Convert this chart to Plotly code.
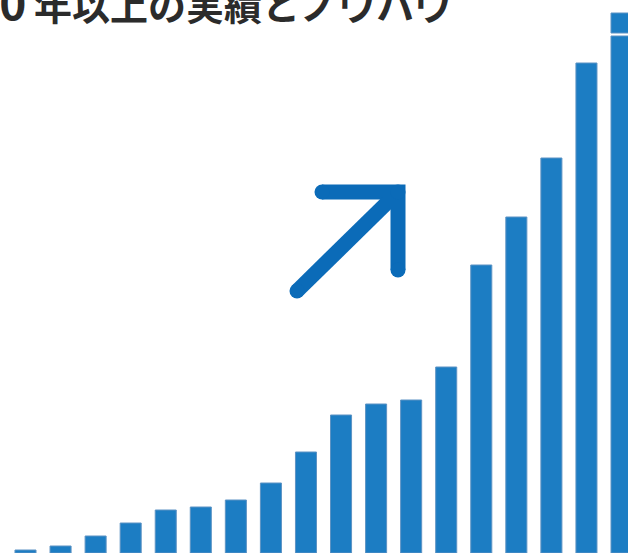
import plotly.graph_objects as go

# ---- data ----
years = list(range(18))
values = [3, 7, 17, 30, 43, 46, 53, 70, 101, 138, 149, 153, 186, 288, 336, 395, 490, 517]
last_extra_base = [520]
last_extra_value = [20]
title_number = "30"
title_text = "年以上の実績とノウハウ"

# arrow decoration (pixel-like overlay coords)
arrow_x = [322, 398, 398, None, 398, 297]
arrow_y = [192, 192, 270, None, 192, 291]

BAR = "#1c7dc3"
EDGE = "#5d93c4"
ARROW = "#0b6bb8"

fig = go.Figure()
fig.add_trace(go.Bar(x=years, y=values, width=0.6,
                     marker=dict(color=BAR, line=dict(color=EDGE, width=1)),
                     hoverinfo="skip", showlegend=False))
fig.add_trace(go.Bar(x=[years[-1]], y=last_extra_value, base=last_extra_base, width=0.6,
                     marker=dict(color=BAR, line=dict(color=EDGE, width=1)),
                     hoverinfo="skip", showlegend=False))
fig.add_trace(go.Scatter(x=arrow_x, y=arrow_y, mode="lines", xaxis="x2", yaxis="y2",
                         line=dict(color=ARROW, width=15), hoverinfo="skip", showlegend=False))
fig.add_trace(go.Scatter(x=[322, 398, 398, 297], y=[192, 192, 270, 291], mode="markers",
                         xaxis="x2", yaxis="y2",
                         marker=dict(color=ARROW, size=15, line=dict(width=0)),
                         hoverinfo="skip", showlegend=False))

p = 35.06
x0 = 25.5
fig.update_layout(
    width=628, height=553, autosize=False,
    margin=dict(l=0, r=0, t=0, b=0),
    paper_bgcolor="white", plot_bgcolor="white",
    barmode="overlay",
    xaxis=dict(range=[-x0 / p, (628 - x0) / p], visible=False, fixedrange=True),
    yaxis=dict(range=[0, 553], visible=False, fixedrange=True),
    xaxis2=dict(range=[0, 628], overlaying="x", visible=False, fixedrange=True),
    yaxis2=dict(range=[553, 0], overlaying="y", visible=False, fixedrange=True),
    annotations=[
        dict(text="<b>" + title_number + "</b>", xref="paper", yref="paper",
             x=28 / 628, y=1 - 35 / 553, xanchor="right", yanchor="bottom",
             showarrow=False,
             font=dict(family="Noto Sans CJK JP", size=46, color="#2b2b2b")),
        dict(text="<b>" + title_text + "</b>", xref="paper", yref="paper",
             x=32 / 628, y=1 - 33 / 553, xanchor="left", yanchor="bottom",
             showarrow=False,
             font=dict(family="Noto Sans CJK JP", size=38, color="#2b2b2b")),
    ],
)

fig.write_html(
    "out.html",
    config={"displayModeBar": False},
    post_script="document.body.style.margin='0';document.body.style.overflow='hidden';",
)
